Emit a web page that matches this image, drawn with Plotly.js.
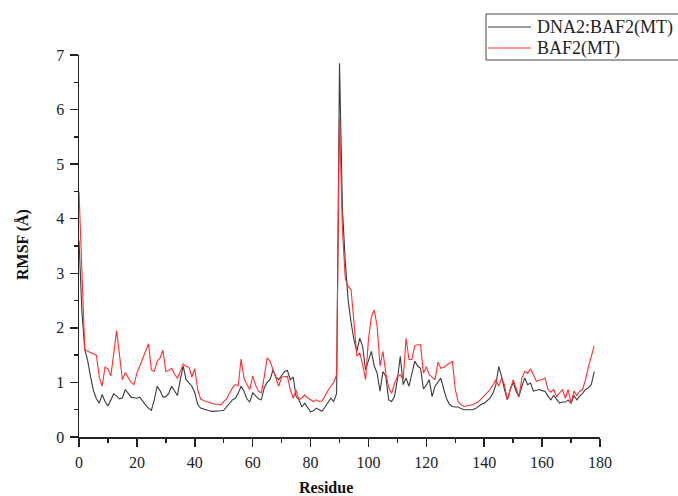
<!DOCTYPE html>
<html>
<head>
<meta charset="utf-8">
<script src="https://cdn.plot.ly/plotly-3.0.1.min.js"></script>
<style>html,body{margin:0;padding:0;background:#fff;}#chart{width:678px;height:496px;}</style>
</head>
<body>
<div id="chart"></div>
<script>
const residues = [];
for (let i = 0; i <= 178; i++) residues.push(i);

const seriesNames = ["DNA2:BAF2(MT)", "BAF2(MT)"];
const seriesColors = ['#3a3a3a', '#ff3030'];

const rmsfComplex = [
  3.6, 2.3, 1.6, 1.4, 1.1, 0.85, 0.7, 0.62, 0.78, 0.65,
  0.57, 0.68, 0.79, 0.75, 0.7, 0.72, 0.87, 0.8, 0.73, 0.72,
  0.71, 0.73, 0.65, 0.59, 0.53, 0.49, 0.68, 0.93, 0.85, 0.73,
  0.74, 0.8, 0.93, 0.85, 0.76, 1.05, 1.3, 1.05, 0.99, 0.93,
  0.81, 0.6, 0.53, 0.51, 0.49, 0.48, 0.47, 0.47, 0.48, 0.48,
  0.49, 0.55, 0.62, 0.68, 0.71, 0.8, 0.93, 0.84, 0.7, 0.64,
  0.81, 0.75, 0.7, 0.68, 0.9, 1.0, 1.05, 1.23, 1.1, 1.05,
  1.12, 1.2, 1.22, 1.05, 1.1, 0.74, 0.68, 0.55, 0.62, 0.55,
  0.46, 0.48, 0.53, 0.5, 0.47, 0.55, 0.62, 0.71, 0.65, 0.8,
  6.85, 4.2, 3.2, 2.5, 2.1, 1.78, 1.57, 1.81, 1.66, 1.23,
  1.4, 1.57, 1.3, 1.17, 0.84, 1.2, 1.11, 0.68, 0.65, 0.74,
  1.05, 1.48, 0.96, 1.08, 0.93, 1.15, 1.39, 1.3, 1.26, 0.88,
  0.95, 1.05, 0.74, 0.93, 1.0, 1.08, 0.88, 0.7, 0.6, 0.56,
  0.55, 0.55, 0.52, 0.5, 0.5, 0.5, 0.5, 0.52, 0.56, 0.6,
  0.62, 0.67, 0.71, 0.8, 0.95, 1.29, 1.11, 0.87, 0.68, 0.87,
  1.0, 0.84, 0.74, 0.93, 1.08, 0.96, 0.99, 0.84, 0.86, 0.87,
  0.85, 0.84, 0.75, 0.68, 0.76, 0.68, 0.62, 0.64, 0.64, 0.68,
  0.62, 0.76, 0.68, 0.75, 0.8, 0.87, 0.9, 0.96, 1.2
];

const rmsfApo = [
  4.5, 3.0, 1.6, 1.57, 1.55, 1.52, 1.5, 1.1, 0.93, 1.28,
  1.25, 1.12, 1.5, 1.95, 1.5, 1.05, 1.18, 1.1, 1.0, 0.96,
  1.17, 1.3, 1.45, 1.6, 1.71, 1.23, 1.2, 1.39, 1.45, 1.59,
  1.2, 1.22, 1.26, 1.15, 1.08, 1.2, 1.34, 1.29, 1.28, 1.1,
  1.25, 0.87, 0.7, 0.67, 0.65, 0.63, 0.61, 0.6, 0.6, 0.59,
  0.65, 0.7, 0.8, 0.9, 0.96, 0.94, 1.43, 1.08, 0.96, 0.87,
  1.12, 0.95, 0.84, 0.81, 1.1, 1.45, 1.39, 1.23, 1.05, 0.93,
  1.1, 1.11, 1.11, 0.87, 0.71, 0.86, 0.68, 0.72, 0.77, 0.72,
  0.68, 0.65, 0.68, 0.65, 0.66, 0.77, 0.85, 0.93, 1.0, 1.14,
  5.85, 3.8, 2.9, 2.76, 2.7, 2.1, 1.48, 1.54, 1.33, 1.05,
  1.78, 2.2, 2.33, 2.03, 1.3, 1.57, 1.17, 0.9, 0.8, 0.98,
  1.1, 1.14, 1.05, 1.81, 1.42, 1.42, 1.67, 1.69, 1.69, 1.17,
  1.29, 1.14, 1.1, 1.05, 1.37, 1.26, 1.28, 1.31, 1.35, 1.39,
  0.87, 0.65, 0.59, 0.56, 0.57, 0.58, 0.59, 0.62, 0.65, 0.7,
  0.76, 0.8, 0.87, 0.95, 1.05, 0.93, 1.08, 0.96, 0.68, 0.87,
  1.05, 0.9, 0.74, 1.08, 1.2, 1.17, 1.25, 1.14, 1.02, 1.04,
  1.05, 1.08, 0.88, 0.82, 0.87, 0.74, 0.8, 0.87, 0.71, 0.87,
  0.62, 0.84, 0.76, 0.84, 0.87, 1.05, 1.29, 1.48, 1.67
];

const serif = "'Liberation Serif', 'Times New Roman', serif";

const traces = [
  {x: residues, y: rmsfComplex, name: seriesNames[0], type: 'scatter', mode: 'lines',
   line: {color: seriesColors[0], width: 1.1}},
  {x: residues, y: rmsfApo, name: seriesNames[1], type: 'scatter', mode: 'lines',
   line: {color: seriesColors[1], width: 1.1}}
];

const axisCommon = {
  showgrid: false, zeroline: false, showline: true, linecolor: '#222', linewidth: 1.5,
  ticks: 'outside', ticklen: 8, tickwidth: 1.5, tickcolor: '#222', tickmode: 'linear',
  ticklabelstandoff: 2,
  tickfont: {family: serif, size: 16, color: '#222'}
};

// Legend geometry (px in the 678x496 page), converted to paper coordinates
const L = 79, R = 78, T = 55, B = 59, W = 678, H = 496;
const pw = W - L - R, ph = H - T - B;
const px = v => (v - L) / pw;
const py = v => (H - B - v) / ph;

const legendShapes = [
  {type: 'rect', xref: 'paper', yref: 'paper', x0: px(486), x1: px(700), y0: py(60), y1: py(14),
   line: {color: '#444', width: 1}, fillcolor: 'rgba(0,0,0,0)'},
  {type: 'line', xref: 'paper', yref: 'paper', x0: px(488), x1: px(531), y0: py(27), y1: py(27),
   line: {color: seriesColors[0], width: 1.1}},
  {type: 'line', xref: 'paper', yref: 'paper', x0: px(488), x1: px(531), y0: py(48), y1: py(48),
   line: {color: seriesColors[1], width: 1.1}}
];

const layout = {
  width: W, height: H,
  margin: {l: L, r: R, t: T, b: B, autoexpand: false},
  paper_bgcolor: '#fff', plot_bgcolor: '#fff',
  showlegend: false,
  xaxis: Object.assign({}, axisCommon, {
    range: [0, 180], tick0: 0, dtick: 20,
    minor: {dtick: 10, tick0: 0, ticks: 'outside', ticklen: 4, tickwidth: 1.5, tickcolor: '#222', showgrid: false}
  }),
  yaxis: Object.assign({}, axisCommon, {
    range: [0, 7], tick0: 0, dtick: 1,
    minor: {dtick: 0.5, tick0: 0, ticks: 'outside', ticklen: 4, tickwidth: 1.5, tickcolor: '#222', showgrid: false}
  }),
  shapes: legendShapes,
  annotations: [
    {text: seriesNames[0], xref: 'paper', yref: 'paper', x: px(535), y: py(27),
     xanchor: 'left', yanchor: 'middle', showarrow: false,
     font: {family: serif, size: 18, color: '#222'}},
    {text: seriesNames[1], xref: 'paper', yref: 'paper', x: px(535), y: py(48),
     xanchor: 'left', yanchor: 'middle', showarrow: false,
     font: {family: serif, size: 18, color: '#222'}},
    {text: '<b>Residue</b>', xref: 'paper', yref: 'paper', x: px(326), y: py(487),
     xanchor: 'center', yanchor: 'middle', showarrow: false,
     font: {family: serif, size: 16, color: '#111'}},
    {text: '<b>RMSF (Å)</b>', xref: 'paper', yref: 'paper', x: px(23), y: py(245),
     xanchor: 'center', yanchor: 'middle', showarrow: false, textangle: -90,
     font: {family: serif, size: 16, color: '#111'}}
  ]
};

Plotly.newPlot('chart', traces, layout, {displayModeBar: false, staticPlot: true});
</script>
</body>
</html>
